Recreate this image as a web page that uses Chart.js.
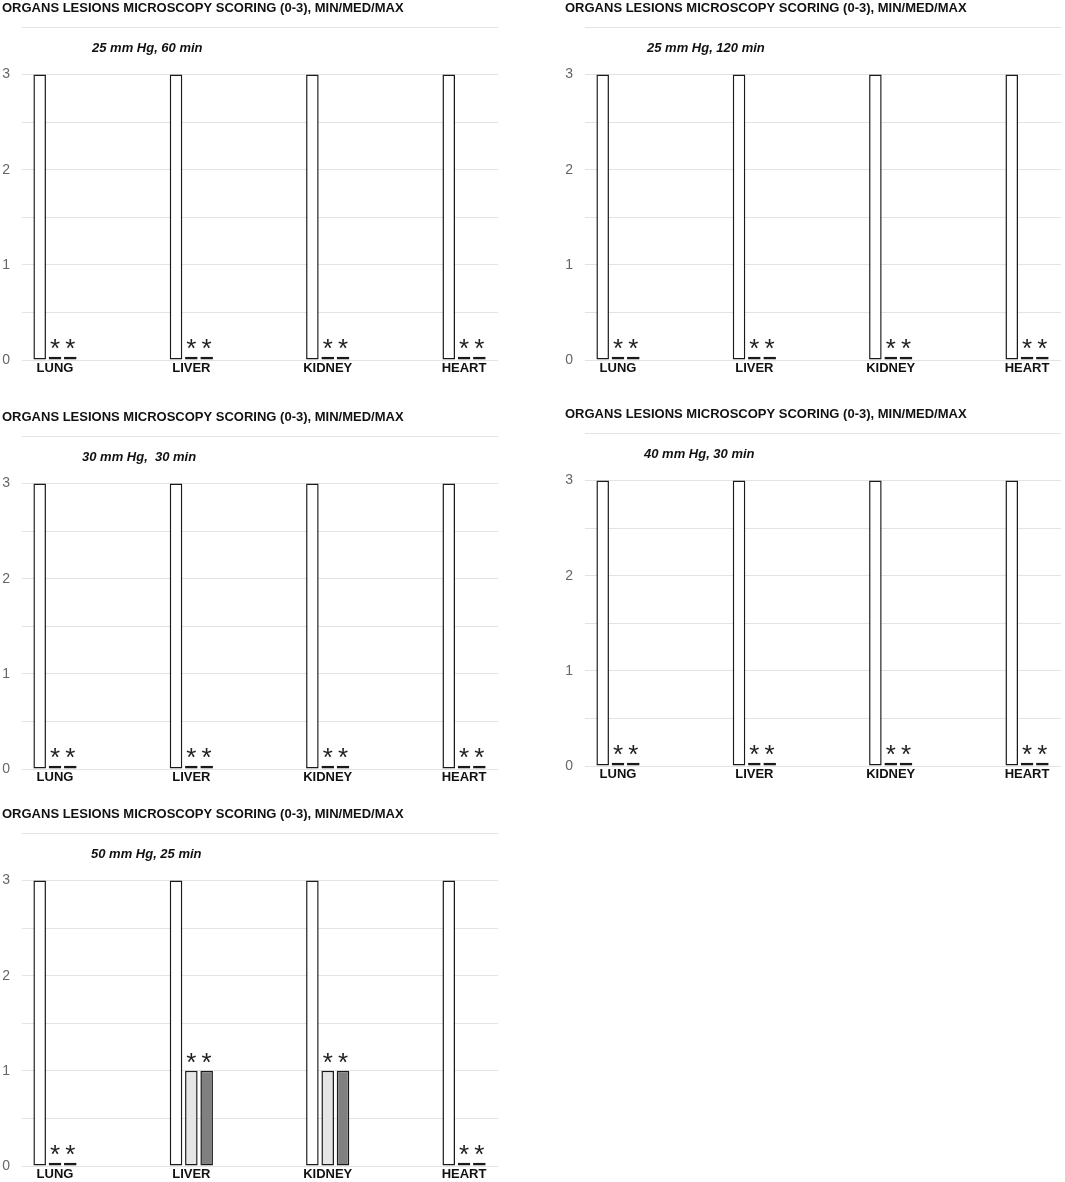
<!DOCTYPE html>
<html>
<head>
<meta charset="utf-8">
<script src="https://cdn.jsdelivr.net/npm/chart.js@4"></script>
<style>
  body { margin: 0; background: #fff; }
  .panel { position: absolute; width: 502px; height: 382px; }
</style>
</head>
<body>
<div class="panel" style="left:0px;top:0px"><canvas id="c0"></canvas></div>
<div class="panel" style="left:563px;top:0px"><canvas id="c1"></canvas></div>
<div class="panel" style="left:0px;top:409px"><canvas id="c2"></canvas></div>
<div class="panel" style="left:563px;top:406px"><canvas id="c3"></canvas></div>
<div class="panel" style="left:0px;top:806px"><canvas id="c4"></canvas></div>
<script>
// datos
const organos = ['LUNG', 'LIVER', 'KIDNEY', 'HEART']
const condiciones = ['25 mm Hg, 60 min', '25 mm Hg, 120 min', '30 mm Hg,  30 min', '40 mm Hg, 30 min', '50 mm Hg, 25 min']
const titulo = 'ORGANS LESIONS MICROSCOPY SCORING (0-3), MIN/MED/MAX'

/* un array por panel, en el orden de condiciones */
const valoresMax = [
    [3, 3, 3, 3],
    [3, 3, 3, 3],
    [3, 3, 3, 3],
    [3, 3, 3, 3],
    [3, 3, 3, 3]
]
const valoresMed = [
    [0.035, 0.035, 0.035, 0.035],
    [0.035, 0.035, 0.035, 0.035],
    [0.035, 0.035, 0.035, 0.035],
    [0.035, 0.035, 0.035, 0.035],
    [0.035, 1, 1, 0.035]
]
const valoresMin = [
    [0.035, 0.035, 0.035, 0.035],
    [0.035, 0.035, 0.035, 0.035],
    [0.035, 0.035, 0.035, 0.035],
    [0.035, 0.035, 0.035, 0.035],
    [0.035, 1, 1, 0.035]
]
const ticksY = [0, 1, 2, 3]

/* posicion x del subtitulo en cada panel */
const subtituloX = [92, 84, 82, 81, 91]

const fuente = 'Liberation Sans, Arial, sans-serif'

// dibuja el subtitulo en cursiva y los asteriscos sobre las barras chicas
const extras = {
    id: 'extras',
    afterDatasetsDraw(chart, args, opts) {
        const ctx = chart.ctx
        ctx.save()
        ctx.fillStyle = '#111'
        ctx.font = 'italic bold 13px ' + fuente
        ctx.textAlign = 'left'
        ctx.textBaseline = 'middle'
        ctx.fillText(opts.subtitulo, opts.x, 48)

        ctx.fillStyle = '#222'
        ctx.font = '26px ' + fuente
        ctx.textAlign = 'center'
        ctx.textBaseline = 'alphabetic'
        const m = ctx.measureText('*')
        const medio = (m.actualBoundingBoxAscent - m.actualBoundingBoxDescent) / 2
        for (const d of [1, 2]) {
            chart.getDatasetMeta(d).data.forEach(bar => {
                ctx.fillText('*', bar.x, bar.y - 13 + medio)
            })
        }
        ctx.restore()
    }
}

function grafico_Panel(i) {

    const ctx = document.getElementById('c' + i)

    new Chart(ctx, {
        type: 'bar',
        data: {
            labels: organos,
            datasets: [{
                label: 'MAX',
                data: valoresMax[i],
                backgroundColor: '#ffffff'
            },
            {
                label: 'MED',
                data: valoresMed[i],
                backgroundColor: '#e6e6e6'
            },
            {
                label: 'MIN',
                data: valoresMin[i],
                backgroundColor: '#808080'
            }]
        },
        options: {
            responsive: true,
            maintainAspectRatio: false,
            animation: false,
            layout: { padding: { left: 2, right: 4, top: 0, bottom: 0 } },
            datasets: {
                bar: {
                    borderColor: '#1a1a1a',
                    borderWidth: 1.5,
                    borderSkipped: false,
                    categoryPercentage: 0.337,
                    barPercentage: 0.82
                }
            },
            plugins: {
                legend: { display: false },
                tooltip: { enabled: false },
                title: {
                    display: true,
                    text: titulo,
                    align: 'start',
                    color: '#111',
                    font: { family: fuente, size: 13, weight: 'bold' },
                    padding: { top: 1, bottom: 10.4 }
                },
                extras: { subtitulo: condiciones[i], x: subtituloX[i] }
            },
            scales: {
                x: {
                    offset: false,
                    grid: { display: false, drawTicks: false },
                    border: { display: false },
                    ticks: {
                        color: '#111',
                        padding: 1,
                        maxRotation: 0,
                        font: { family: fuente, size: 13, weight: 'bold' }
                    },
                    // las categorias quedan metidas dentro del area
                    afterBuildTicks: s => { s._startValue = -0.242; s._valueRange = 3.491 },
                    afterFit: s => { s.height = 22 }
                },
                y: {
                    min: 0,
                    max: 3.5,
                    grid: { color: '#e3e3e3', lineWidth: 1, drawTicks: false },
                    border: { display: false },
                    ticks: {
                        stepSize: 0.5,
                        color: '#666',
                        padding: 12,
                        font: { family: fuente, size: 14 },
                        callback: v => ticksY.includes(v) ? v : ''
                    },
                    afterFit: s => { s.width = 20 }
                }
            }
        },
        plugins: [extras]
    })
}

for (let i = 0; i < condiciones.length; i++) {
    grafico_Panel(i)
}
</script>
</body>
</html>
